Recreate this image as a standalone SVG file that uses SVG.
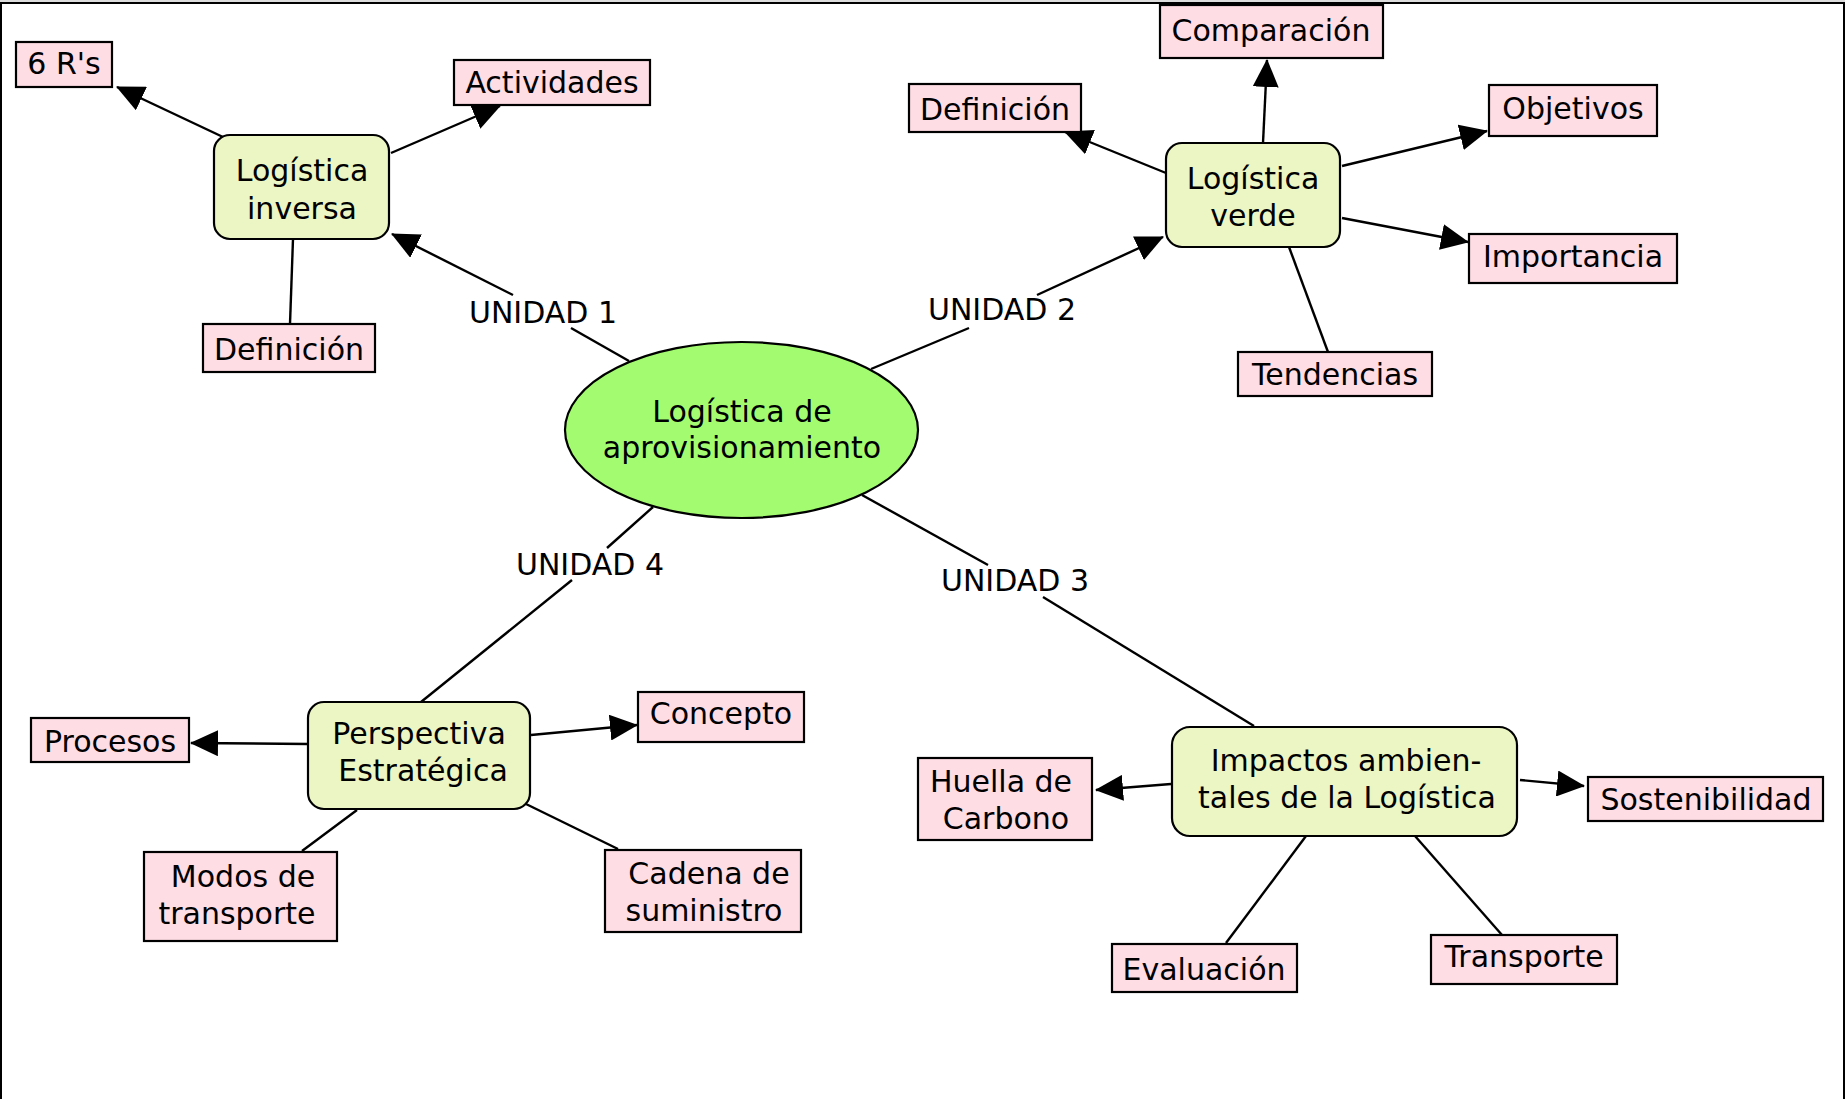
<svg xmlns="http://www.w3.org/2000/svg" width="1845" height="1099" viewBox="0 0 1845 1099">
<style>
text{font-family:"DejaVu Sans","Verdana",sans-serif;font-size:30px;fill:#000;text-anchor:middle}
.leaf{fill:#ffdde5;stroke:#000;stroke-width:2.2}
.node{fill:#ecf5c4;stroke:#000;stroke-width:2.2}
.main{fill:#a3fc6f;stroke:#000;stroke-width:2.2}
.c{stroke:#000;stroke-width:2.4;fill:none}
.a{stroke:#000;stroke-width:2.4;fill:none;marker-end:url(#arr)}
</style>
<defs>
<marker id="arr" viewBox="0 0 28 26" markerWidth="28" markerHeight="26" refX="27" refY="13" orient="auto" markerUnits="userSpaceOnUse">
<path d="M0,0 L28,13 L0,26 z" fill="#000"/>
</marker>
</defs>
<rect x="0" y="0" width="1845" height="1099" fill="#fff"/>
<g id="frame">
<rect x="0" y="0" width="1845" height="2" fill="#dcdcdc"/>
<rect x="0" y="2" width="1845" height="2" fill="#000"/>
<rect x="0" y="2" width="2" height="1097" fill="#000"/>
<rect x="1843" y="2" width="2" height="1097" fill="#000"/>
</g>
<g id="connectors">
<line class="c" x1="629" y1="361" x2="571" y2="328"/>
<line class="a" x1="513" y1="295" x2="392" y2="234"/>
<line class="c" x1="871" y1="369" x2="969" y2="328"/>
<line class="a" x1="1037" y1="295" x2="1163" y2="237"/>
<line class="c" x1="862" y1="495" x2="988" y2="565"/>
<line class="c" x1="1043" y1="597" x2="1254" y2="726"/>
<line class="c" x1="653" y1="507" x2="607" y2="548"/>
<line class="c" x1="572" y1="580" x2="421" y2="702"/>
<line class="a" x1="223" y1="137" x2="117" y2="87"/>
<line class="a" x1="391" y1="153" x2="500" y2="106"/>
<line class="c" x1="293" y1="239" x2="290" y2="324"/>
<line class="a" x1="1263" y1="143" x2="1267" y2="60"/>
<line class="a" x1="1166" y1="173" x2="1065" y2="132"/>
<line class="a" x1="1342" y1="166" x2="1487" y2="131"/>
<line class="a" x1="1342" y1="218" x2="1468" y2="242"/>
<line class="c" x1="1289" y1="247" x2="1328" y2="352"/>
<line class="a" x1="308" y1="744" x2="191" y2="743"/>
<line class="a" x1="531" y1="735" x2="637" y2="725"/>
<line class="c" x1="357" y1="810" x2="302" y2="851"/>
<line class="c" x1="526" y1="804" x2="618" y2="849"/>
<line class="a" x1="1171" y1="784" x2="1096" y2="790"/>
<line class="a" x1="1520" y1="780" x2="1584" y2="786"/>
<line class="c" x1="1306" y1="836" x2="1226" y2="943"/>
<line class="c" x1="1415" y1="836" x2="1502" y2="935"/>
<text x="543" y="323">UNIDAD 1</text>
<text x="1002" y="320">UNIDAD 2</text>
<text x="1015" y="591">UNIDAD 3</text>
<text x="590" y="575">UNIDAD 4</text>
</g>
<g id="n-main">
<ellipse class="main" cx="741.5" cy="430" rx="176.5" ry="88"/>
<text x="742" y="422">Logística de</text>
<text x="742" y="458">aprovisionamiento</text>
</g>
<g id="n-inversa">
<rect class="node" x="214" y="135" width="175" height="104" rx="16"/>
<text x="302" y="181">Logística</text>
<text x="302" y="219">inversa</text>
</g>
<g id="n-verde">
<rect class="node" x="1166" y="143" width="174" height="104" rx="16"/>
<text x="1253" y="189">Logística</text>
<text x="1253" y="226">verde</text>
</g>
<g id="n-perspectiva">
<rect class="node" x="308" y="702" width="222" height="107" rx="16"/>
<text x="419" y="744">Perspectiva</text>
<text x="423" y="781">Estratégica</text>
</g>
<g id="n-impactos">
<rect class="node" x="1172" y="727" width="345" height="109" rx="18"/>
<text x="1346" y="771">Impactos ambien-</text>
<text x="1347" y="808">tales de la Logística</text>
</g>
<g id="l-6rs">
<rect class="leaf" x="16" y="42" width="96" height="45"/>
<text x="64" y="74">6 R's</text>
</g>
<g id="l-actividades">
<rect class="leaf" x="454" y="60" width="196" height="45"/>
<text x="552" y="93">Actividades</text>
</g>
<g id="l-definicion1">
<rect class="leaf" x="203" y="324" width="172" height="48"/>
<text x="289" y="360">Definición</text>
</g>
<g id="l-comparacion">
<rect class="leaf" x="1160" y="5" width="223" height="53"/>
<text x="1271" y="41">Comparación</text>
</g>
<g id="l-definicion2">
<rect class="leaf" x="909" y="84" width="172" height="48"/>
<text x="995" y="120">Definición</text>
</g>
<g id="l-objetivos">
<rect class="leaf" x="1489" y="85" width="168" height="51"/>
<text x="1573" y="119">Objetivos</text>
</g>
<g id="l-importancia">
<rect class="leaf" x="1469" y="234" width="208" height="49"/>
<text x="1573" y="267">Importancia</text>
</g>
<g id="l-tendencias">
<rect class="leaf" x="1238" y="352" width="194" height="44"/>
<text x="1335" y="385">Tendencias</text>
</g>
<g id="l-procesos">
<rect class="leaf" x="31" y="718" width="158" height="44"/>
<text x="110" y="752">Procesos</text>
</g>
<g id="l-concepto">
<rect class="leaf" x="638" y="692" width="166" height="50"/>
<text x="721" y="724">Concepto</text>
</g>
<g id="l-modos">
<rect class="leaf" x="144" y="852" width="193" height="89"/>
<text x="243" y="887">Modos de</text>
<text x="237" y="924">transporte</text>
</g>
<g id="l-cadena">
<rect class="leaf" x="605" y="850" width="196" height="82"/>
<text x="709" y="884">Cadena de</text>
<text x="704" y="921">suministro</text>
</g>
<g id="l-huella">
<rect class="leaf" x="918" y="758" width="174" height="82"/>
<text x="1001" y="792">Huella de</text>
<text x="1006" y="829">Carbono</text>
</g>
<g id="l-sostenibilidad">
<rect class="leaf" x="1588" y="777" width="235" height="44"/>
<text x="1706" y="810">Sostenibilidad</text>
</g>
<g id="l-evaluacion">
<rect class="leaf" x="1112" y="944" width="185" height="48"/>
<text x="1204" y="980">Evaluación</text>
</g>
<g id="l-transporte">
<rect class="leaf" x="1431" y="935" width="186" height="49"/>
<text x="1524" y="967">Transporte</text>
</g>
</svg>
